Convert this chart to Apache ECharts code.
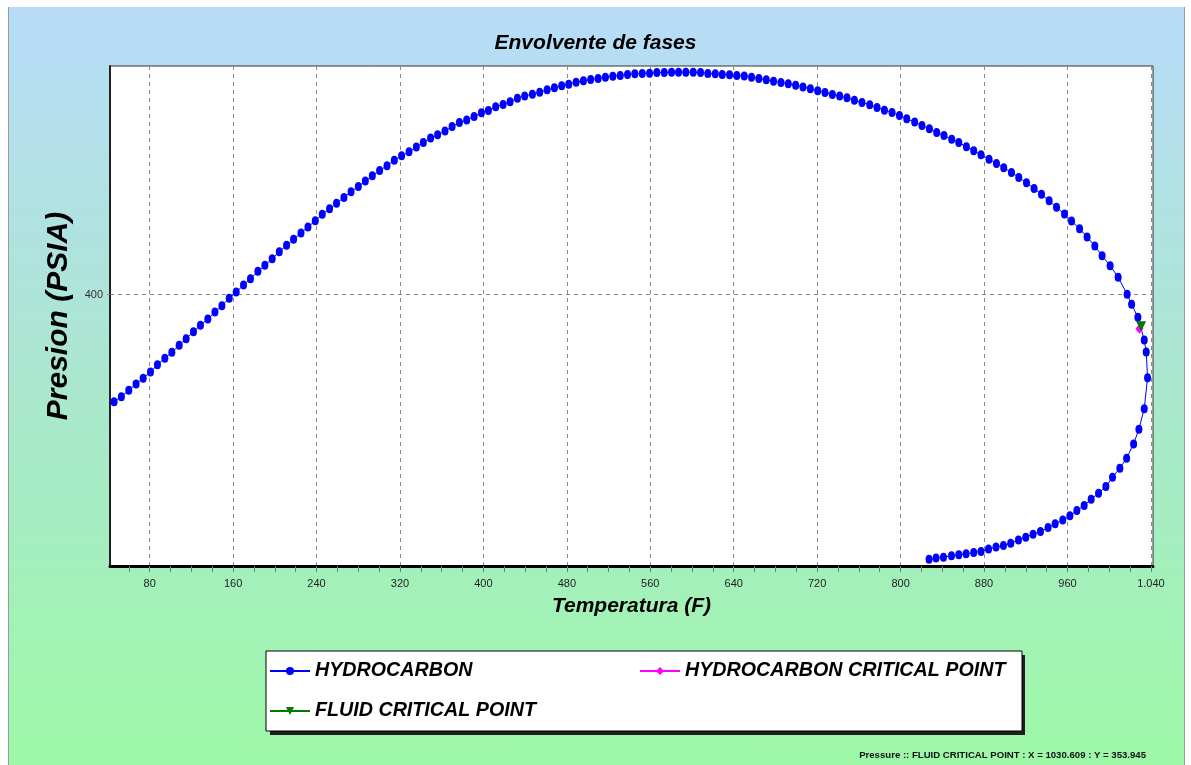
<!DOCTYPE html>
<html><head><meta charset="utf-8">
<script src="https://cdn.jsdelivr.net/npm/echarts@6/dist/echarts.min.js"></script>
<style>
html,body{margin:0;padding:0;background:#fff;}
#bg{position:absolute;left:8px;top:7px;width:1175px;height:758px;background:linear-gradient(#b8dcf9,#ace6d3 45%,#9df8a7);border-left:1px solid #9a9a9a;border-right:1px solid #9a9a9a;}
#c{position:absolute;left:0;top:0;width:1191px;height:765px;}
</style>
</head><body><div id="bg"></div><div id="c"></div>
<script>
const chartTitle = 'Envolvente de fases';
const xAxisName = 'Temperatura (F)';
const yAxisName = 'Presion (PSIA)';
const statusText = 'Pressure :: FLUID CRITICAL POINT : X = 1030.609 : Y = 353.945';
const seriesNames = ['HYDROCARBON', 'HYDROCARBON CRITICAL POINT', 'FLUID CRITICAL POINT'];

const xTickValues = [80, 160, 240, 320, 400, 480, 560, 640, 720, 800, 880, 960, 1040];
const xMinorTickValues = [60, 80, 100, 120, 140, 160, 180, 200, 220, 240, 260, 280, 300, 320, 340, 360, 380, 400,
  420, 440, 460, 480, 500, 520, 540, 560, 580, 600, 620, 640, 660, 680, 700, 720, 740, 760, 780, 800,
  820, 840, 860, 880, 900, 920, 940, 960, 980, 1000, 1020, 1040];
const yTickValues = [400];

const hcTemp = [45.9, 52.9, 60.0, 67.0, 73.8, 80.8, 87.5, 94.6, 101.3, 108.3, 115.0, 122.0, 128.7, 135.8, 142.6,
  149.3, 156.3, 163.0, 170.0, 176.7, 183.8, 190.5, 197.5, 204.3, 211.3, 218.0, 225.1, 231.8, 238.8, 245.5,
  252.5, 259.2, 266.3, 273.1, 280.1, 286.8, 293.5, 300.5, 307.6, 314.6, 321.6, 328.7, 335.7, 342.4, 349.4,
  356.1, 363.2, 370.0, 377.0, 384.0, 391.1, 398.1, 404.8, 411.8, 418.9, 425.6, 432.6, 439.6, 447.0, 454.0,
  461.1, 468.1, 475.1, 481.8, 488.9, 495.9, 502.9, 510.0, 517.0, 524.1, 531.2, 538.2, 545.2, 552.3, 559.3,
  566.3, 573.4, 580.4, 587.1, 594.1, 601.2, 608.2, 615.2, 622.3, 629.0, 636.0, 643.0, 650.1, 657.1, 664.1,
  671.2, 678.2, 685.3, 692.3, 699.4, 706.4, 713.5, 720.5, 727.5, 734.6, 741.6, 748.6, 755.7, 763.0, 770.4,
  777.4, 784.5, 791.8, 798.9, 805.9, 813.5, 820.5, 827.6, 834.6, 841.6, 849.0, 855.8, 863.1, 870.1, 877.1,
  884.8, 891.9, 898.9, 906.3, 913.3, 920.7, 928.0, 935.1, 942.4, 949.5, 957.2, 963.9, 971.6, 978.8, 986.2,
  993.2, 1000.9, 1008.6, 1017.2, 1021.5, 1027.5, 1033.6, 1035.5, 1036.8, 1033.6, 1028.5, 1023.4, 1016.7, 1010.2, 1003.2,
  996.8, 989.8, 982.7, 976.0, 969.0, 962.3, 955.5, 948.2, 941.4, 934.1, 927.0, 920.0, 913.0, 905.6, 898.6,
  891.5, 884.3, 877.1, 870.1, 862.8, 855.8, 848.8, 841.1, 834.0, 827.3];
const hcPres = [244.3, 251.6, 260.9, 270.1, 278.4, 287.5, 298.1, 307.5, 316.2, 326.4, 336.0, 346.2, 355.5, 364.6, 374.8,
  384.0, 394.8, 403.9, 414.1, 423.3, 434.0, 442.8, 452.4, 462.6, 471.9, 480.6, 489.8, 498.5, 507.7, 517.0,
  525.1, 533.0, 541.7, 549.9, 557.7, 565.4, 573.1, 581.0, 587.7, 595.6, 602.2, 608.1, 614.9, 621.7, 628.0,
  632.8, 638.2, 645.0, 650.8, 654.2, 659.6, 664.8, 668.3, 673.5, 677.0, 680.8, 686.2, 689.5, 692.0, 694.9,
  698.3, 701.2, 704.1, 706.6, 709.5, 711.4, 713.4, 714.9, 716.8, 718.2, 719.2, 720.7, 721.6, 722.1, 722.6,
  723.6, 723.6, 724.0, 724.0, 724.0, 724.0, 723.6, 722.1, 721.6, 720.7, 720.1, 719.2, 718.6, 716.8, 714.9,
  712.8, 710.9, 709.0, 707.0, 705.1, 702.6, 699.7, 696.8, 694.5, 691.6, 689.5, 686.6, 683.3, 679.9, 676.5,
  672.7, 668.7, 665.4, 661.0, 656.1, 651.3, 646.5, 641.5, 636.3, 631.9, 626.5, 621.7, 615.6, 609.5, 603.7,
  597.4, 591.2, 584.8, 578.1, 570.8, 563.0, 554.8, 546.1, 536.8, 527.2, 517.4, 507.2, 496.0, 484.0, 470.9,
  456.7, 442.2, 425.3, 400.6, 386.0, 367.1, 334.1, 316.6, 279.2, 234.1, 204.2, 182.8, 162.0, 147.4, 134.3,
  120.6, 111.0, 102.3, 93.0, 85.7, 78.0, 71.8, 66.4, 61.0, 55.2, 51.4, 47.0, 42.7, 38.3, 34.8,
  32.5, 29.6, 26.1, 24.6, 22.7, 21.3, 19.8, 17.9, 16.5, 14.7];
const hcCritTemp = [1029.0];
const hcCritPres = [350.5];
const fluidCritTemp = [1030.609];
const fluidCritPres = [353.945];

const FONT = "'Liberation Sans', Arial, sans-serif";
const pairs = (xs, ys) => xs.map((x, i) => [x, ys[i]]);
const fmtThousands = v => String(v).replace(/\B(?=(\d{3})+(?!\d))/g, '.');

const chart = echarts.init(document.getElementById('c'), null, { renderer: 'canvas' });
chart.setOption({
  animation: false,
  backgroundColor: 'transparent',
  title: [
    { text: chartTitle, left: 'center', top: 28,
      textStyle: { fontFamily: FONT, fontSize: 21, fontWeight: 'bold', fontStyle: 'italic', color: '#000' } },
    { text: statusText, right: 40, top: 745,
      textStyle: { fontFamily: FONT, fontSize: 9.6, fontWeight: 'bold', color: '#111' } }
  ],
  graphic: [
    { type: 'rect', z: 1, silent: true, shape: { x: 270, y: 655, width: 755, height: 80 },
      style: { fill: '#1e1e1e' } }
  ],
  grid: { left: 110, right: 38, top: 66, bottom: 199, show: true, backgroundColor: '#fff',
    borderColor: '#333', borderWidth: 1, outerBoundsMode: 'none', containLabel: false },
  legend: {
    left: 266, top: 651, width: 745, orient: 'horizontal', z: 5,
    padding: [1, 15, 1, 3], itemGap: 2, itemWidth: 40, itemHeight: 10,
    backgroundColor: '#fff', borderColor: '#000', borderWidth: 1,
    data: seriesNames,
    textStyle: { fontFamily: FONT, fontSize: 19.7, fontWeight: 'bold', fontStyle: 'italic', color: '#000',
      width: 322, lineHeight: 38, overflow: 'none' }
  },
  xAxis: [
    { type: 'value', min: 42, max: 1042, position: 'bottom',
      name: xAxisName, nameLocation: 'middle', nameGap: 30,
      nameTextStyle: { fontFamily: FONT, fontSize: 21, fontWeight: 'bold', fontStyle: 'italic', color: '#000' },
      axisLine: { show: true, onZero: false, lineStyle: { color: '#000', width: 3 } },
      axisTick: { show: false, customValues: xTickValues },
      axisLabel: { customValues: xTickValues, formatter: fmtThousands, fontFamily: FONT, fontSize: 11, color: '#222', margin: 12 },
      splitLine: { show: true, lineStyle: { color: '#8a8a8a', width: 1, type: [4, 4] } }
    },
    { type: 'value', min: 42, max: 1042, position: 'bottom',
      axisLine: { show: false }, axisLabel: { show: false }, splitLine: { show: false },
      axisTick: { show: true, customValues: xMinorTickValues, length: 6, lineStyle: { color: '#777', width: 1 } }
    }
  ],
  yAxis: {
    type: 'value', min: 5, max: 733,
    name: yAxisName, nameLocation: 'middle', nameGap: 30, nameRotate: 90,
    nameTextStyle: { fontFamily: FONT, fontSize: 30, fontWeight: 'bold', fontStyle: 'italic', color: '#000' },
    axisLine: { show: true, onZero: false, lineStyle: { color: '#222', width: 2 } },
    axisTick: { show: true, customValues: yTickValues, length: 6, lineStyle: { color: '#888', type: [3, 3] } },
    axisLabel: { customValues: yTickValues, fontFamily: FONT, fontSize: 11, color: '#333', margin: 7 },
    splitLine: { show: true, lineStyle: { color: '#8a8a8a', width: 1, type: [4, 4] } }
  },
  series: [
    { name: seriesNames[0], type: 'line', xAxisIndex: 0, data: pairs(hcTemp, hcPres),
      symbol: 'circle', symbolSize: [7, 9], showAllSymbol: true,
      lineStyle: { color: '#0000ff', width: 1 }, itemStyle: { color: '#0000ff' }, z: 2 },
    { name: seriesNames[1], type: 'line', xAxisIndex: 0, data: pairs(hcCritTemp, hcCritPres),
      symbol: 'diamond', symbolSize: [8, 10],
      lineStyle: { color: '#ff00ff', width: 1 }, itemStyle: { color: '#ff00ff' }, z: 3 },
    { name: seriesNames[2], type: 'line', xAxisIndex: 0, data: pairs(fluidCritTemp, fluidCritPres),
      symbol: 'path://M0,0L10,0L5,10Z', symbolSize: [10, 10],
      lineStyle: { color: '#007a00', width: 1 }, itemStyle: { color: '#007a00' }, z: 4 }
  ]
});
</script>
</body></html>
